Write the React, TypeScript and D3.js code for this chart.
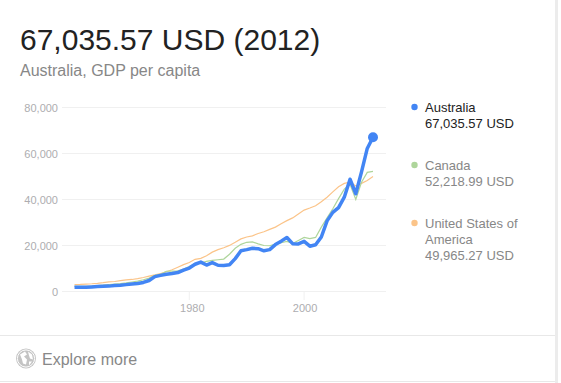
import React from "react";
import * as d3 from "d3";

const startYear = 1960;
const australia = [1807,1875,1852,1964,2128,2277,2340,2576,2720,2990,3300,3490,3940,4770,6470,7000,7480,7800,8240,9270,10200,11850,12790,11500,12570,11400,11350,11650,14300,17700,18200,18800,18600,17700,18200,20400,21900,23500,20800,20700,21800,19700,20300,23700,30700,34400,36500,41000,48800,42500,52000,62200,67035.57];
const canada = [2260,2240,2270,2380,2550,2770,3050,3230,3460,3750,4120,4520,5090,5840,7030,7530,8800,8900,8990,9760,10900,12150,12400,13100,13500,13800,14100,16200,18800,20500,21400,21600,20700,20000,19900,20600,21200,21800,20900,22200,23500,23000,23500,28000,32000,36000,40400,44500,46600,40000,47500,51800,52218.99];
const usa = [3000,3060,3240,3375,3570,3830,4150,4340,4690,5030,5230,5610,6090,6720,7230,7800,8570,9470,10570,11670,12600,13980,14430,15540,17120,18200,19000,20040,21400,22860,23700,24200,25200,26000,27000,28000,29500,30800,32000,33700,35400,36300,37300,39000,41000,43300,45500,47000,47500,45900,47000,48300,49965.27];
const yTicks = [0,20000,40000,60000,80000];
const xTicks = [1980,2000];
const xTickNudge = [3,1];
const legendItems = [
  { lines: ["Australia", "67,035.57 USD"], color: "#4285f4", text: "#222222" },
  { lines: ["Canada", "52,218.99 USD"], color: "#aed59b", text: "#878787" },
  { lines: ["United States of", "America", "49,965.27 USD"], color: "#fbc489", text: "#878787" },
];

const font = "'Liberation Sans', Arial, sans-serif";
const x = d3.scaleLinear().domain([1960, 2012]).range([74.5, 373]);
const y = d3.scaleLinear().domain([0, 80000]).range([291.5, 107.5]);
const line = d3.line<number>().x((_, i) => x(startYear + i)).y((d) => y(d));
const legendTops = [112, 170, 228];

export default function App() {
  return (
    <svg width={561} height={383} style={{ position: "absolute", left: 0, top: 0, background: "#fff" }} fontFamily={font}>
      <rect x={555} y={0} width={3} height={383} fill="#ececec" />
      <text x={20} y={50} fontSize={30} fill="#222">67,035.57 USD (2012)</text>
      <text x={20} y={76} fontSize={16} fill="#878787">Australia, GDP per capita</text>

      {yTicks.map((t) => (
        <g key={t}>
          <line x1={62} x2={386} y1={y(t)} y2={y(t)} stroke="#f0f0f0" />
          <text x={58} y={y(t) + 4} textAnchor="end" fontSize={11} fill="#adadb0">{d3.format(",")(t)}</text>
        </g>
      ))}
      {xTicks.map((t, i) => (
        <g key={t}>
          <line x1={x(t)} x2={x(t)} y1={292} y2={300} stroke="#f0f0f0" />
          <text x={x(t) + xTickNudge[i]} y={312} textAnchor="middle" fontSize={11} fill="#adadb0">{t}</text>
        </g>
      ))}

      <path d={line(usa) ?? ""} fill="none" stroke="#fbc489" strokeWidth={1.2} />
      <path d={line(canada) ?? ""} fill="none" stroke="#aed59b" strokeWidth={1.2} />
      <path d={line(australia) ?? ""} fill="none" stroke="#4285f4" strokeWidth={3.5} strokeLinejoin="round" />
      <circle cx={x(2012)} cy={y(australia[australia.length - 1])} r={5} fill="#4285f4" />

      {legendItems.map((item, i) => (
        <g key={i}>
          <circle cx={414.5} cy={legendTops[i] - 5} r={3.2} fill={item.color} />
          {item.lines.map((l, j) => (
            <text key={j} x={425} y={legendTops[i] + j * 16} fontSize={13} fill={item.text}>{l}</text>
          ))}
        </g>
      ))}

      <line x1={0} x2={555} y1={335.5} y2={335.5} stroke="#e8e8e8" />
      <line x1={0} x2={555} y1={381.5} y2={381.5} stroke="#e8e8e8" />
      <g transform="translate(26,358.5)">
        <circle r={10} fill="#c4c4c4" />
        <circle r={8.6} fill="none" stroke="#fff" strokeWidth={1} />
        <path d="M-6,-4 L-1,-7 L1,-4 L-2,-2 L1,1 L0,6 L-3,5 L-4,1 Z M2,-7 L6,-4 L7,1 L4,0 L3,-3 Z M3,3 L6,3 L3,7 Z" fill="#fff" />
      </g>
      <text x={42} y={365} fontSize={16} fill="#888">Explore more</text>
    </svg>
  );
}
